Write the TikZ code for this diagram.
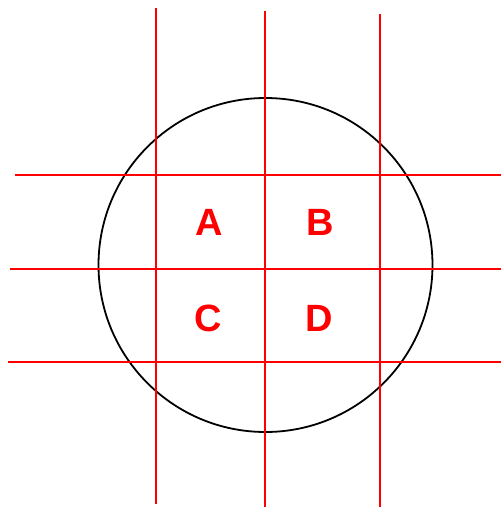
\documentclass[tikz,border=0pt]{standalone}
\usepackage{fontspec}
\setmainfont{Liberation Sans}
\usepackage{tikz}
\usetikzlibrary{positioning}

\begin{document}
\begin{tikzpicture}[x=1pt, y=-1pt, thick, text=red]
        \tikzset{gridline/.style={draw=red, line width=1.8pt},
                 region/.style={font=\fontsize{38}{40}\selectfont\bfseries, text=red, inner sep=0pt}}
        \useasboundingbox (0,0) rectangle (501,507);

        % Circulo
        \node[draw=black, line width=1.8pt, circle, minimum size=334pt, inner sep=0pt] (disc) at (265.5,265) {};

        % Lineas verticales
        \draw[gridline] (156,8) -- (156,503.5);
        \draw[gridline] (265,11) -- (265,507);
        \draw[gridline] (380,14) -- (380,507);

        % Lineas horizontales
        \draw[gridline] (15,175) -- (501,175);
        \draw[gridline] (10,269) -- (501,269);
        \draw[gridline] (8,362) -- (501,362);

        % Regiones
        \node[region] (A) at (209,222) {A};
        \node[region] (B) at (320,222) {B};
        \node[region] (C) at (208,318) {C};
        \node[region] (D) at (319,318) {D};

    \end{tikzpicture}
\end{document}
